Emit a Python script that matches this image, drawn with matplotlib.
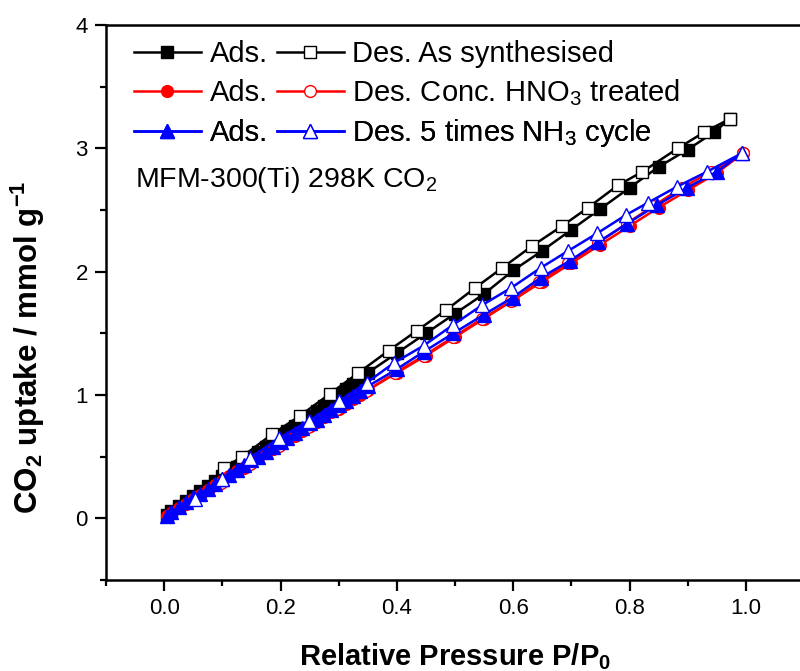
import numpy as np
import matplotlib
matplotlib.use('Agg')
import matplotlib.pyplot as plt
from matplotlib.ticker import MultipleLocator

plt.rcParams['font.family'] = ['Liberation Sans', 'DejaVu Sans']
plt.rcParams['mathtext.default'] = 'regular'

# dense low-pressure adsorption steps (shared by the three ads runs)
x_low = [0.005, 0.012, 0.025, 0.037, 0.05, 0.062, 0.075, 0.087, 0.10, 0.112,
         0.125, 0.137, 0.15, 0.162, 0.175, 0.187, 0.20, 0.212, 0.225, 0.237,
         0.25, 0.262, 0.275, 0.287, 0.30, 0.312, 0.325, 0.337, 0.35]

# as synthesised
ads_as_x = x_low + [0.40, 0.45, 0.50, 0.55, 0.60, 0.65, 0.70, 0.75, 0.80, 0.85, 0.90, 0.945, 0.973]
ads_as_y = [0.03, 0.06, 0.10, 0.14, 0.18, 0.22, 0.26, 0.30, 0.34, 0.38,
            0.42, 0.46, 0.50, 0.54, 0.58, 0.62, 0.67, 0.71, 0.75, 0.79,
            0.83, 0.87, 0.91, 0.95, 1.01, 1.05, 1.09, 1.13, 1.18,
            1.34, 1.50, 1.66, 1.82, 2.01, 2.17, 2.34, 2.51, 2.68, 2.85, 2.99, 3.13, 3.24]
des_as_x = [0.973, 0.928, 0.883, 0.822, 0.780, 0.729, 0.684, 0.633, 0.581, 0.535,
            0.485, 0.434, 0.386, 0.334, 0.285, 0.233, 0.185, 0.134, 0.103]
des_as_y = [3.24, 3.13, 3.00, 2.81, 2.70, 2.52, 2.37, 2.21, 2.03, 1.87,
            1.69, 1.52, 1.36, 1.18, 1.01, 0.83, 0.68, 0.50, 0.41]

# conc. HNO3 treated
ads_hno3_x = x_low + [0.40, 0.45, 0.50, 0.55, 0.60, 0.65, 0.70, 0.75, 0.80, 0.85, 0.90, 0.95, 0.995]
ads_hno3_y = [0.02, 0.04, 0.08, 0.12, 0.16, 0.19, 0.23, 0.27, 0.30, 0.34,
              0.38, 0.41, 0.45, 0.49, 0.53, 0.56, 0.60, 0.64, 0.67, 0.71,
              0.75, 0.78, 0.82, 0.86, 0.89, 0.93, 0.97, 1.00, 1.04,
              1.18, 1.32, 1.47, 1.62, 1.77, 1.92, 2.07, 2.22, 2.37, 2.52, 2.66, 2.80, 2.96]
des_hno3_x = [0.995, 0.94, 0.89, 0.84, 0.795, 0.745, 0.695, 0.645, 0.597, 0.547,
              0.497, 0.447, 0.397, 0.347, 0.297, 0.247, 0.197, 0.147, 0.097, 0.05]
des_hno3_y = [2.96, 2.81, 2.68, 2.53, 2.39, 2.23, 2.07, 1.92, 1.76, 1.62,
              1.47, 1.32, 1.18, 1.03, 0.89, 0.74, 0.59, 0.44, 0.29, 0.15]

# 5 times NH3 cycle
ads_nh3_x = x_low + [0.40, 0.446, 0.497, 0.549, 0.599, 0.647, 0.698, 0.746, 0.796, 0.847, 0.899, 0.95, 0.993]
ads_nh3_y = [0.02, 0.05, 0.09, 0.13, 0.17, 0.20, 0.24, 0.28, 0.32, 0.35,
             0.39, 0.43, 0.47, 0.50, 0.54, 0.58, 0.62, 0.65, 0.69, 0.73,
             0.77, 0.80, 0.84, 0.88, 0.92, 0.95, 0.99, 1.03, 1.07,
             1.21, 1.35, 1.50, 1.65, 1.79, 1.95, 2.09, 2.24, 2.39, 2.54, 2.68, 2.81, 2.96]
des_nh3_x = [0.993, 0.933, 0.882, 0.832, 0.794, 0.744, 0.695, 0.647, 0.597, 0.547,
             0.497, 0.446, 0.395, 0.348, 0.300, 0.249, 0.197, 0.148, 0.099, 0.053]
des_nh3_y = [2.96, 2.81, 2.69, 2.56, 2.46, 2.31, 2.17, 2.03, 1.87, 1.73,
             1.57, 1.40, 1.26, 1.10, 0.95, 0.79, 0.65, 0.49, 0.32, 0.16]

legend_labels = ['Des. As synthesised', 'Des. Conc. HNO$_3$ treated', 'Des. 5 times NH$_3$ cycle']

fig = plt.figure(figsize=(8, 6.71), dpi=100)
ax = fig.add_axes([0.1325, 0.1356, 0.8725, 0.8271])

lw = 1.8
h1, = ax.plot(ads_as_x, ads_as_y, '-s', color='black', ms=8, lw=lw, mfc='black', mec='black')
h2, = ax.plot(des_as_x, des_as_y, '-s', color='black', ms=8, lw=lw, mfc='white', mec='black', mew=1.0)
h3, = ax.plot(ads_hno3_x, ads_hno3_y, '-o', color='red', ms=8.5, lw=lw, mfc='red', mec='red')
h4, = ax.plot(des_hno3_x, des_hno3_y, '-o', color='red', ms=8.5, lw=lw, mfc='white', mec='red', mew=1.0)
h5, = ax.plot(ads_nh3_x, ads_nh3_y, '-^', color='blue', ms=9.5, lw=lw, mfc='blue', mec='blue')
h6, = ax.plot(des_nh3_x, des_nh3_y, '-^', color='blue', ms=9.5, lw=lw, mfc='white', mec='blue', mew=1.0)

ax.set_xlim(-0.1, 1.1)
ax.set_ylim(-0.5, 4)
ax.xaxis.set_minor_locator(MultipleLocator(0.1))
ax.yaxis.set_minor_locator(MultipleLocator(0.5))
ax.set_xticks([0.0, 0.2, 0.4, 0.6, 0.8, 1.0])
ax.set_xticklabels(['0.0', '0.2', '0.4', '0.6', '0.8', '1.0'])
ax.set_yticks([0, 1, 2, 3, 4])

for s in ax.spines.values():
    s.set_linewidth(1.8)
ax.tick_params(which='major', direction='out', length=8, width=1.6, labelsize=16, pad=5)
ax.tick_params(which='minor', direction='out', length=4.5, width=1.6)

ax.set_xlabel('Relative Pressure P/P$_0$', fontsize=21, fontweight='bold')
ax.set_ylabel('CO$_2$ uptake / mmol g$^{-1}$', fontsize=22.5, fontweight='bold')
ax.xaxis.set_label_coords(0.5, -0.11)
ax.yaxis.set_label_coords(-0.085, 0.42)

# one legend per row so "Ads." sits on the same line as its "Des." entry
rows = [(h1, h2, 0.948), (h3, h4, 0.879), (h5, h6, 0.805)]
for (ha, hd, yrow), lab in zip(rows, legend_labels):
    leg = ax.legend([ha, hd], ['Ads.', lab], ncol=2, loc='center left',
                    bbox_to_anchor=(0.04, yrow), frameon=False, fontsize=21,
                    handlelength=2.3, handletextpad=0.3, columnspacing=0.3,
                    borderpad=0, borderaxespad=0)
    ax.add_artist(leg)

ax.text(0.0415, 0.72, 'MFM-300(Ti) 298K CO$_2$', transform=ax.transAxes,
        fontsize=20.5, ha='left', va='center')

fig.savefig('out.png', dpi=100)
